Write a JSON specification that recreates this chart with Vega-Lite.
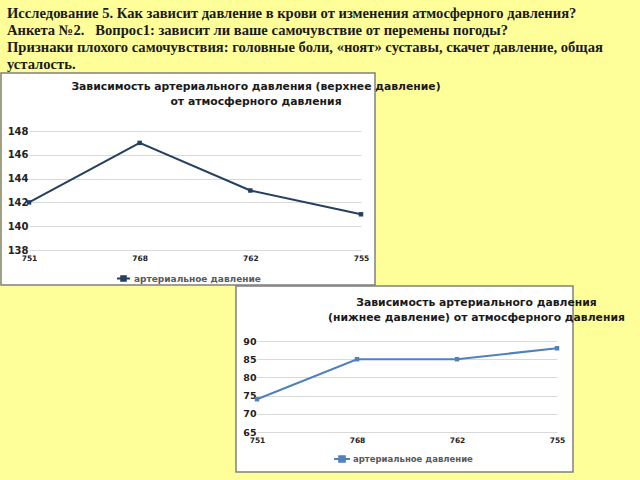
{
  "$schema": "https://vega.github.io/schema/vega-lite/v6.json",
  "background": "#FFFF99",
  "padding": {"left": 0, "top": 5, "right": 14, "bottom": 8},
  "title": {
    "text": [
      "Исследование 5. Как зависит давление в крови от изменения атмосферного давления?",
      "Анкета №2.\u00a0\u00a0 Вопрос1: зависит ли ваше самочувствие от перемены погоды?",
      "Признаки плохого самочувствия: головные боли, «ноят» суставы, скачет давление, общая",
      "усталость."
    ],
    "font": "Liberation Serif",
    "fontSize": 14.6,
    "fontWeight": "bold",
    "color": "#1a1a1a",
    "anchor": "start",
    "frame": "group",
    "dx": 6,
    "lineHeight": 17,
    "offset": 1
  },
  "datasets": {
    "upper": [
      {"atm": "751", "bp": 142, "series": "артериальное давление"},
      {"atm": "768", "bp": 147, "series": "артериальное давление"},
      {"atm": "762", "bp": 143, "series": "артериальное давление"},
      {"atm": "755", "bp": 141, "series": "артериальное давление"}
    ],
    "lower": [
      {"atm": "751", "bp": 74, "series": "артериальное давление "},
      {"atm": "768", "bp": 85, "series": "артериальное давление "},
      {"atm": "762", "bp": 85, "series": "артериальное давление "},
      {"atm": "755", "bp": 88, "series": "артериальное давление "}
    ],
    "blank": [{"k": 1}]
  },
  "spacing": -8,
  "resolve": {"scale": {"color": "independent"}, "legend": {"color": "independent"}},
  "vconcat": [
    {
      "width": 374,
      "height": 212,
      "view": {"fill": "#ffffff", "stroke": "#808080", "strokeWidth": 1.5},
      "title": {
        "text": ["Зависимость артериального давления (верхнее давление)", "от атмосферного давления"],
        "font": "DejaVu Sans",
        "fontSize": 10.8,
        "fontWeight": "bold",
        "color": "#1a1a1a",
        "anchor": "middle",
        "dx": 68,
        "dy": 26,
        "offset": -8,
        "baseline": "top",
        "lineHeight": 15
      },
      "data": {"name": "upper"},
      "encoding": {
        "x": {
          "field": "atm", "type": "ordinal", "sort": null,
          "scale": {"type": "point", "range": [28, 360], "padding": 0},
          "axis": {"orient": "bottom", "offset": -35, "domain": false, "ticks": false, "grid": false, "title": null, "labelAngle": 0, "labelPadding": 4, "labelFont": "DejaVu Sans", "labelFontSize": 7.5, "labelFontWeight": "bold", "labelColor": "#222222"}
        },
        "y": {
          "field": "bp", "type": "quantitative",
          "scale": {"domain": [138, 148], "range": [177, 58], "nice": false, "zero": false},
          "axis": {"values": [138, 140, 142, 144, 146, 148], "offset": -28, "domain": false, "ticks": false, "grid": true, "gridColor": "#d9d9d9", "gridWidth": 1, "title": null, "labelPadding": 1, "labelFont": "DejaVu Sans", "labelFontSize": 10, "labelFontWeight": "bold", "labelColor": "#222222"}
        },
        "color": {
          "field": "series", "type": "nominal",
          "scale": {"range": ["#243F60"]},
          "legend": {
            "orient": "none", "legendX": 115, "legendY": 198, "direction": "horizontal", "title": null, "padding": 0,
            "symbolType": "M-1,0H1M-0.35,-0.35H0.35V0.35H-0.35Z", "symbolSize": 169, "symbolStrokeWidth": 2,
            "labelOffset": 3, "labelFont": "DejaVu Sans", "labelFontSize": 9, "labelFontWeight": "bold", "labelColor": "#595959",
            "encode": {"symbols": {"update": {"stroke": {"value": "#243F60"}, "fill": {"value": "#243F60"}, "strokeWidth": {"value": 2}, "opacity": {"value": 1}}}}
          }
        }
      },
      "layer": [
        {"mark": {"type": "line", "strokeWidth": 2}},
        {"mark": {"type": "square", "size": 20, "opacity": 1, "filled": true}}
      ]
    },
    {
      "spacing": 0,
      "hconcat": [
        {
          "width": 234,
          "height": 10,
          "view": {"fill": null, "stroke": null},
          "data": {"name": "blank"},
          "mark": {"type": "point", "opacity": 0}
        },
        {
          "width": 337,
          "height": 186,
          "view": {"fill": "#ffffff", "stroke": "#808080", "strokeWidth": 1.5},
          "title": {
            "text": ["Зависимость артериального давления", "(нижнее давление) от атмосферного давления"],
            "font": "DejaVu Sans",
            "fontSize": 10.8,
            "fontWeight": "bold",
            "color": "#1a1a1a",
            "anchor": "middle",
            "dx": 72,
            "dy": 27,
            "offset": -10,
            "baseline": "top",
            "lineHeight": 15
          },
          "data": {"name": "lower"},
          "encoding": {
            "x": {
              "field": "atm", "type": "ordinal", "sort": null,
              "scale": {"type": "point", "range": [21, 321], "padding": 0},
              "axis": {"orient": "bottom", "offset": -40, "domain": false, "ticks": false, "grid": false, "title": null, "labelAngle": 0, "labelPadding": 4, "labelFont": "DejaVu Sans", "labelFontSize": 7.5, "labelFontWeight": "bold", "labelColor": "#222222"}
            },
            "y": {
              "field": "bp", "type": "quantitative",
              "scale": {"domain": [65, 90], "range": [146, 55], "nice": false, "zero": false},
              "axis": {"values": [65, 70, 75, 80, 85, 90], "offset": -21, "domain": false, "ticks": false, "grid": true, "gridColor": "#d9d9d9", "gridWidth": 1, "title": null, "labelPadding": 1, "labelFont": "DejaVu Sans", "labelFontSize": 9.5, "labelFontWeight": "bold", "labelColor": "#222222"}
            },
            "color": {
              "field": "series", "type": "nominal",
              "scale": {"range": ["#4F81BD"]},
              "legend": {
                "orient": "none", "legendX": 332, "legendY": 164, "direction": "horizontal", "title": null, "padding": 0,
                "symbolType": "M-1,0H1M-0.35,-0.35H0.35V0.35H-0.35Z", "symbolSize": 256, "symbolStrokeWidth": 2,
                "labelOffset": 2, "labelFont": "DejaVu Sans", "labelFontSize": 8.5, "labelFontWeight": "bold", "labelColor": "#595959",
                "encode": {"symbols": {"update": {"stroke": {"value": "#4F81BD"}, "fill": {"value": "#4F81BD"}, "strokeWidth": {"value": 2}, "opacity": {"value": 1}}}}
              }
            }
          },
          "layer": [
            {"mark": {"type": "line", "strokeWidth": 2}},
            {"mark": {"type": "square", "size": 20, "opacity": 1, "filled": true}}
          ]
        }
      ]
    }
  ],
  "config": {
    "view": {"stroke": null},
    "concat": {"spacing": 0}
  }
}
